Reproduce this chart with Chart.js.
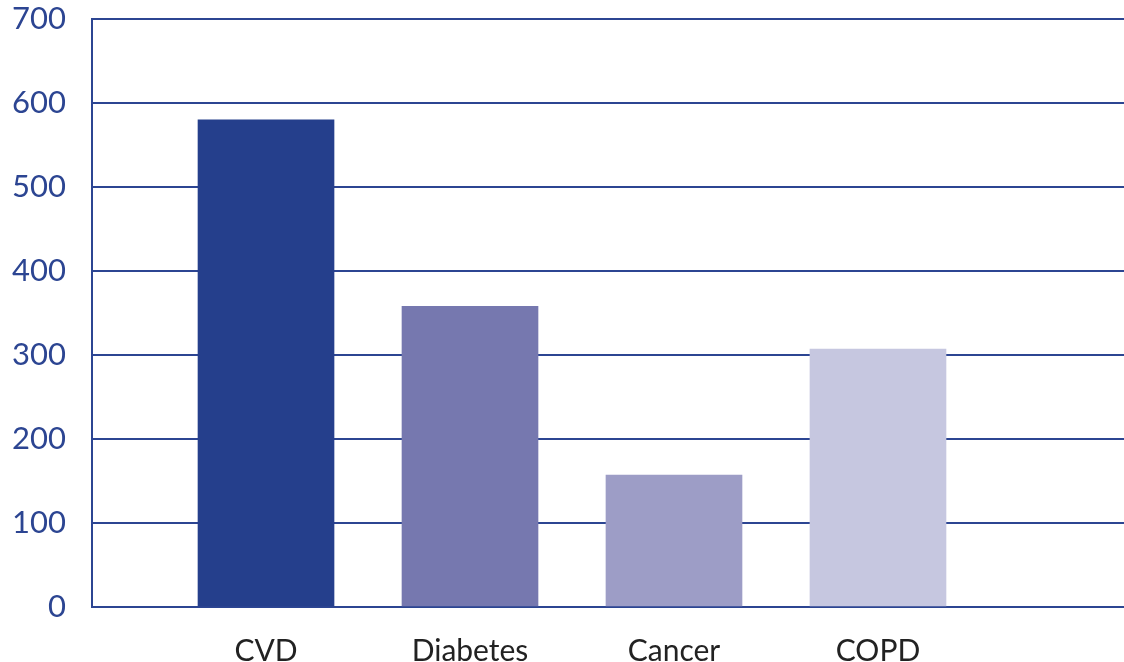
<!DOCTYPE html>
<html>
<head>
<meta charset="utf-8">
<script src="https://cdn.jsdelivr.net/npm/chart.js@4"></script>
<style>
  html, body { margin: 0; padding: 0; background: #fff; }
  #wrap { width: 1124px; height: 662px; }
</style>
</head>
<body>
<div id="wrap"><canvas id="diseaseChart" width="1124" height="662"></canvas></div>
<script>
// categories and values
const categories = ['CVD', 'Diabetes', 'Cancer', 'COPD'];
const values = [580, 358, 157, 307];
const barColors = ['#253f8c', '#7678af', '#9d9dc6', '#c6c7e0'];
const yTicks = [0, 100, 200, 300, 400, 500, 600, 700];

const blue = '#2c4592';

// bars sit at x = 1..4 on a linear axis so the spacing matches the original
const points = categories.map((c, i) => ({ x: i + 1, y: values[i] }));

new Chart(document.getElementById('diseaseChart').getContext('2d'), {
    type: 'bar',
    data: {
        datasets: [{
            data: points,
            backgroundColor: barColors,
            borderWidth: 0,
            barThickness: 136
        }]
    },
    options: {
        responsive: false,
        animation: false,
        layout: { padding: { top: 19, right: 0, left: 0, bottom: 0 } },
        plugins: {
            legend: { display: false },
            tooltip: { enabled: false }
        },
        scales: {
            x: {
                type: 'linear',
                offset: false,
                min: 0.147,
                max: 5.206,
                afterBuildTicks: axis => {
                    axis.ticks = categories.map((c, i) => ({ value: i + 1 }));
                },
                afterFit: axis => { axis.height = 55; },
                grid: { display: false, drawTicks: false, offset: false },
                border: { display: true, color: blue, width: 2 },
                ticks: {
                    padding: 26,
                    color: '#222',
                    font: { family: 'Lato', size: 30 },
                    callback: v => categories[v - 1] || ''
                }
            },
            y: {
                min: 0,
                max: 700,
                afterBuildTicks: axis => {
                    axis.ticks = yTicks.map(v => ({ value: v }));
                },
                afterFit: axis => {
                    axis.width = 92;
                    axis.paddingTop = 0;
                    axis.paddingBottom = 0;
                },
                grid: { color: blue, lineWidth: 2, drawTicks: false },
                border: { display: true, color: blue, width: 2 },
                ticks: {
                    padding: 26,
                    color: blue,
                    font: { family: 'Lato', size: 31 }
                }
            }
        }
    }
});
</script>
</body>
</html>
